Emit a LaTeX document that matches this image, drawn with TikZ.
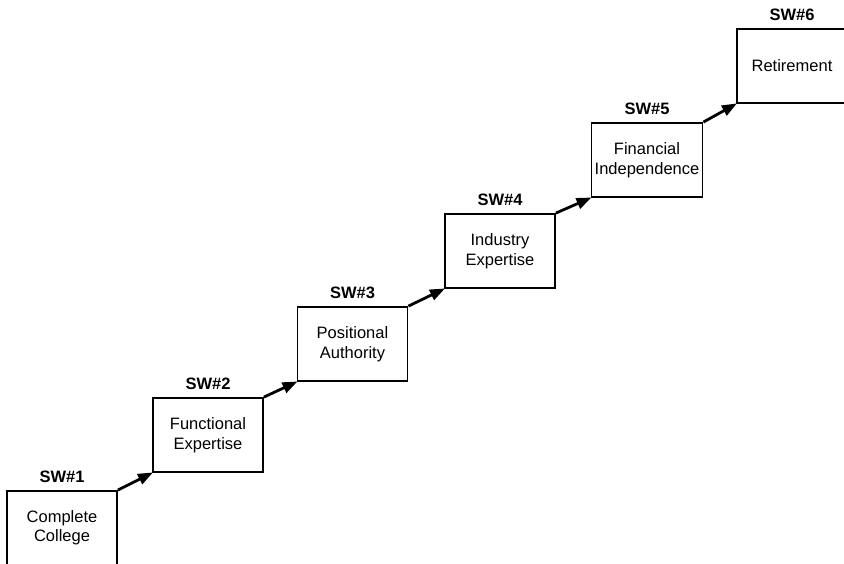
\documentclass[tikz,border=0pt]{standalone}
\usepackage{fontspec}
\setmainfont{Liberation Sans}
\usetikzlibrary{arrows.meta}
\begin{document}
\begin{tikzpicture}[x=1pt,y=1pt,
  stepbox/.style={draw=black, line width=1.8pt, minimum width=110pt, minimum height=74pt,
    inner sep=0pt, align=center, font=\fontsize{16.5}{19.5}\selectfont},
  swlabel/.style={font=\fontsize{16.5}{19.5}\selectfont\bfseries, inner sep=0pt},
  link/.style={line width=2.8pt, -{Triangle[length=15pt,width=11pt]}, shorten >=-1pt}]
\useasboundingbox (0,0) rectangle (844,564);
\node[stepbox] (b1) at (62,36) {\raisebox{-3pt}{\shortstack{Complete\\[1pt]College}}};
\node[stepbox] (b2) at (208,129) {Functional\\Expertise};
\node[stepbox] (b3) at (352.5,220) {Positional\\Authority};
\node[stepbox] (b4) at (500,313) {Industry\\Expertise};
\node[stepbox, minimum width=111pt] (b5) at (647,404) {Financial\\Independence};
\node[stepbox] (b6) at (792,498) {Retirement};
\foreach \i in {1,...,6}{
  \node[swlabel, above=7pt] (l\i) at (b\i.north) {SW\#\i};
}
\draw[link] (b1.north east) -- (b2.south west);
\draw[link] (b2.north east) -- (b3.south west);
\draw[link] (b3.north east) -- (b4.south west);
\draw[link] (b4.north east) -- (b5.south west);
\draw[link] (b5.north east) -- (b6.south west);
\end{tikzpicture}
\end{document}
